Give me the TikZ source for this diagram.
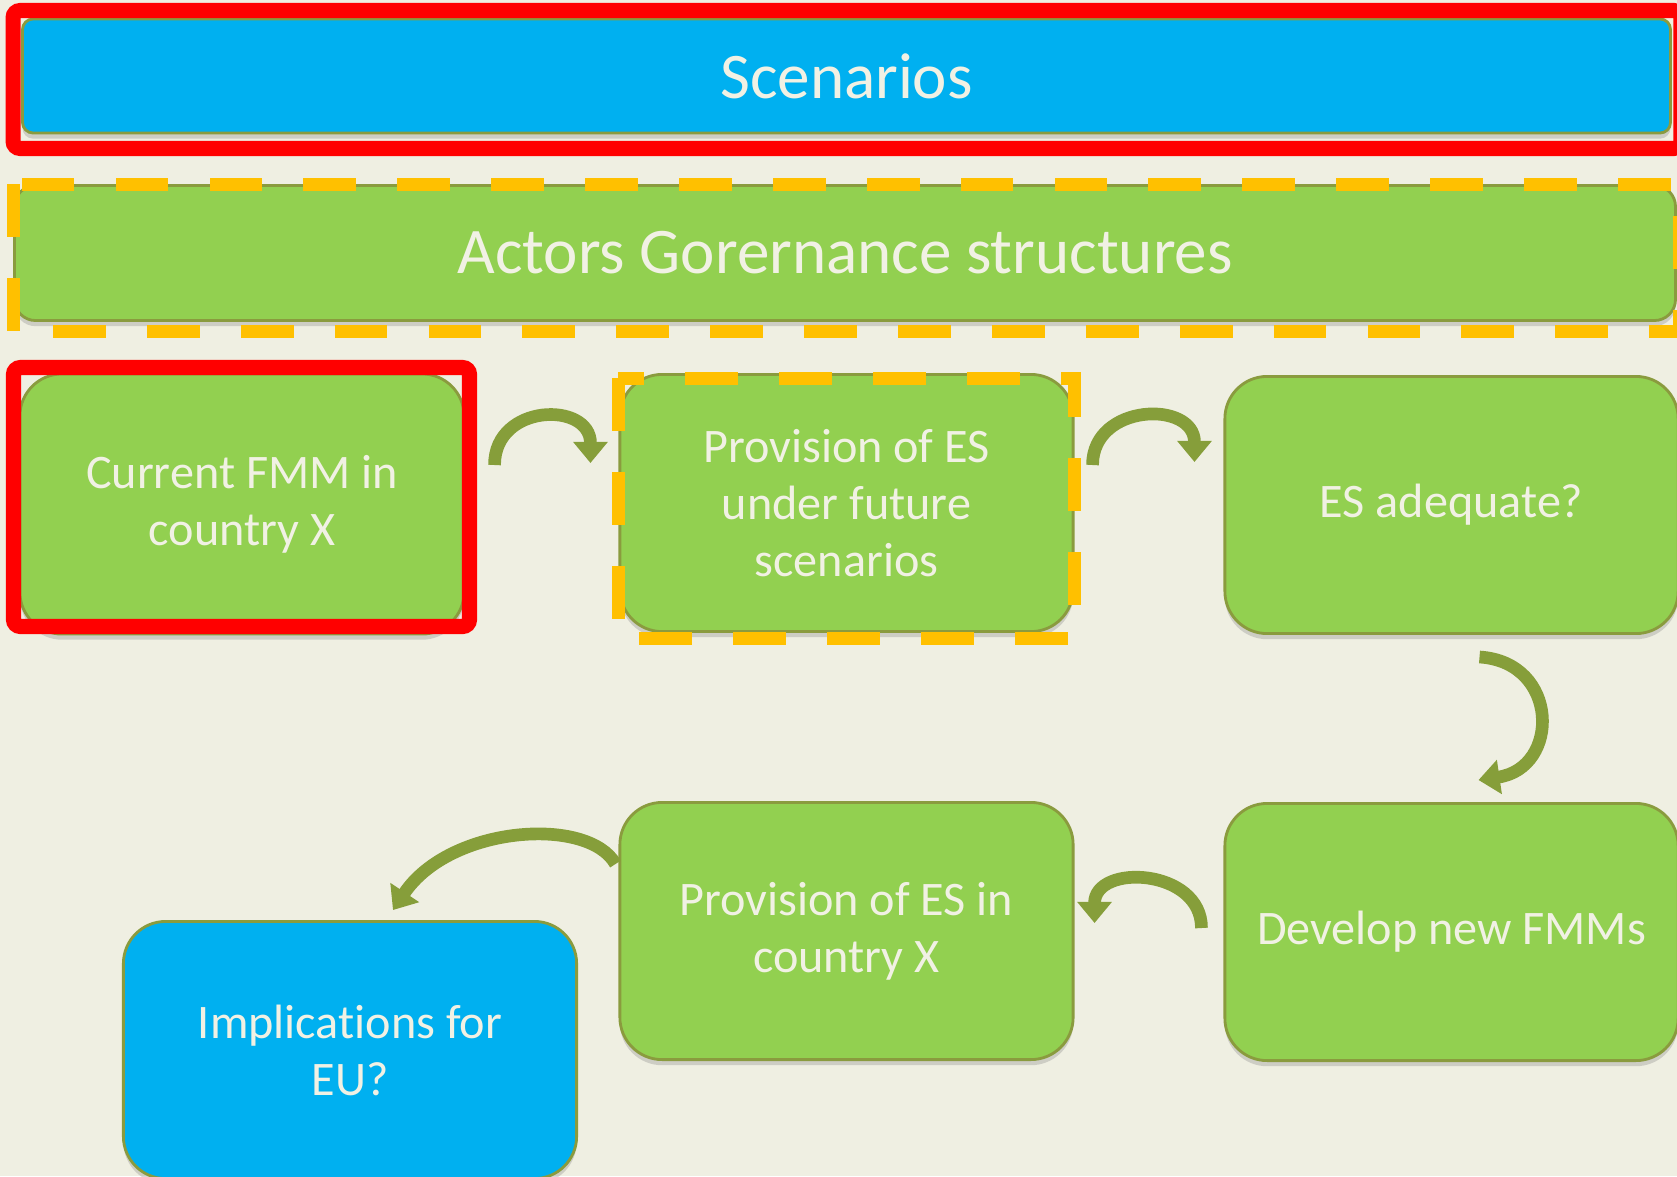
\documentclass[tikz,border=0pt]{standalone}
\usepackage{fontspec}
\setmainfont[Ligatures={NoCommon,NoRequired,NoContextual}]{Carlito}
\usetikzlibrary{calc}
\usetikzlibrary{arrows.meta}
\usetikzlibrary{shadows}

\definecolor{slidebg}{RGB}{239,239,226}
\definecolor{ppblue}{RGB}{0,176,240}
\definecolor{ppgreen}{RGB}{146,208,80}
\definecolor{ppred}{RGB}{255,0,0}
\definecolor{ppgold}{RGB}{255,192,0}
\definecolor{olivebd}{RGB}{138,155,62}
\definecolor{olivearr}{RGB}{134,158,58}
\definecolor{cream}{RGB}{241,241,228}

\tikzset{
  flowbox/.style={draw=olivebd, line width=0.8pt, fill=ppgreen, rounded corners=12pt,
    minimum width=4.53cm, minimum height=2.57cm, inner sep=0pt, align=center, text=cream,
    font=\fontsize{13.7}{16.2}\selectfont,
    drop shadow={shadow xshift=0pt, shadow yshift=-1.6pt, opacity=.3}},
  bannerbox/.style={flowbox, font=\fontsize{18.5}{22}\selectfont},
  redframe/.style={draw=ppred, line width=4.3pt, rounded corners=2pt},
  goldframe/.style={draw=ppgold, line width=3.7pt, dash pattern=on 15pt off 11.7pt},
  curvy/.style={draw=olivearr, line width=3.6pt, -{Triangle[width=9.5pt,length=6pt]}}
}

\begin{document}
\begin{tikzpicture}[x=0.01cm, y=-0.01cm]
\useasboundingbox (0,0) rectangle (1677,1176);
\clip (0,0) rectangle (1677,1176);
\fill[slidebg] (0,0) rectangle (1677,1176);

% top banners
\node[bannerbox, fill=ppblue, rounded corners=3pt, minimum width=16.47cm, minimum height=1.14cm] (scen) at (846.5,76) {Scenarios};
\draw[redframe] ([shift={(-8,-7)}]scen.north west) rectangle ([shift={(9,14)}]scen.south east);
\node[bannerbox, rounded corners=6pt, minimum width=16.6cm, minimum height=1.35cm] (actors) at (845,253) {Actors Gorernance structures};
\draw[goldframe] ([shift={(0,0)}]actors.north west) rectangle ([shift={(3,10)}]actors.south east);

% first row
\node[flowbox, minimum width=4.44cm, minimum height=2.60cm] (cur) at (242,504) {Current FMM in\\country X};
\draw[redframe] ([shift={(-5,-5)}]cur.north west) rectangle ([shift={(4,-9)}]cur.south east);
\node[flowbox] (prov) at (846.5,503) {Provision of ES\\under future\\scenarios};
\draw[goldframe] ([shift={(0,5)}]prov.north west) rectangle ([shift={(0,6)}]prov.south east);
\node[flowbox] (ok) at (1451.5,505) {ES adequate?};

% second row
\node[flowbox] (dev) at (1451.5,932) {Develop new FMMs};
\node[flowbox] (provx) at (846.5,931) {Provision of ES in\\country X};
\node[flowbox, fill=ppblue] (impl) at (350,1050) {Implications for\\EU?};

% curved arrows
\draw[curvy] ($(cur.east)+(29,-39)$) .. controls +(0,-62) and +(0,-62) .. ($(prov.west)+(-28,-40)$);
\draw[curvy] ($(prov.east)+(18,-38)$) .. controls +(0,-62) and +(0,-62) .. ($(ok.west)+(-29,-43)$);
\draw[curvy] ($(ok.south)+(28,22)$) .. controls +(80,5) and +(82,-12) .. ($(dev.north)+(27,-22)$);
\draw[curvy] ($(dev.west)+(-22,-4)$) .. controls +(0,-60) and +(0,-60) .. ($(provx.east)+(20,-8)$);
\draw[curvy] ($(provx.west)+(-3,-67)$) .. controls +(-27,-48) and +(57,-85) .. ($(impl.north)+(43,-10)$);
\end{tikzpicture}
\end{document}
